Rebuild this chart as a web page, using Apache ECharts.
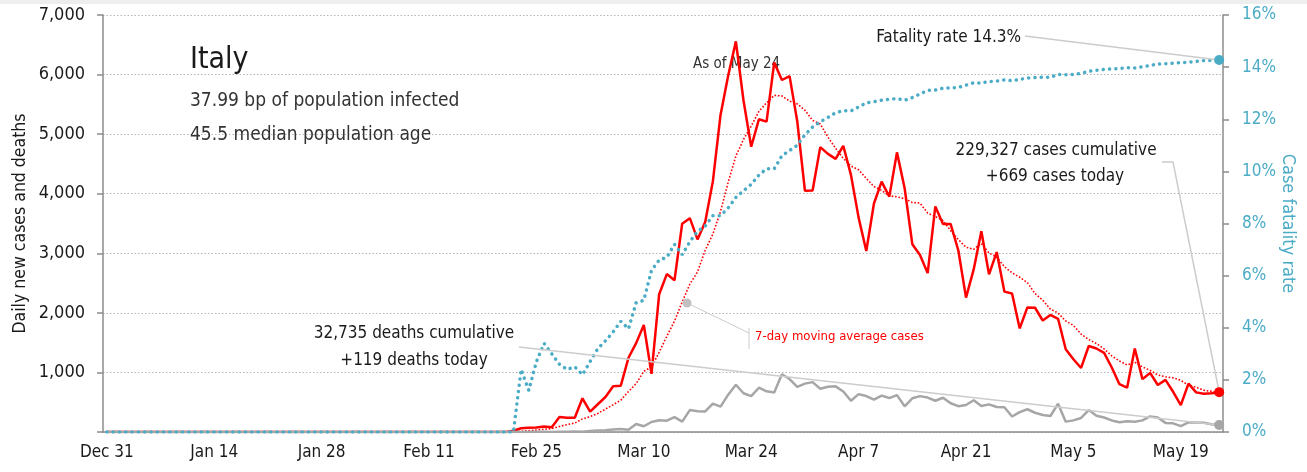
<!DOCTYPE html>
<html>
<head>
<meta charset="utf-8">
<script src="https://cdn.jsdelivr.net/npm/echarts@6/dist/echarts.min.js"></script>
<style>
html, body { margin: 0; padding: 0; background: #fff; }
#chart { width: 1307px; height: 472px; }
</style>
</head>
<body>
<div id="chart"></div>
<script>
const FONT = "'Liberation Sans Narrow', 'DejaVu Sans Condensed', sans-serif";
const RED = '#ff0000';
const TEAL = '#4bacc6';
const GRAY = '#a6a6a6';
const AXIS = '#8c8c8c';

// daily categories Dec 31 .. May 24, data flat at zero until Feb 21
const MONTHS = ['Jan', 'Feb', 'Mar', 'Apr', 'May', 'Jun', 'Jul', 'Aug', 'Sep', 'Oct', 'Nov', 'Dec'];
const CATEGORY_DAYS = 146;
const LEAD_ZERO_DAYS = 53;
const X_TICK_LABELS = ['Dec 31', 'Jan 14', 'Jan 28', 'Feb 11', 'Feb 25', 'Mar 10', 'Mar 24', 'Apr 7', 'Apr 21', 'May 5', 'May 19'];

// Feb 22 .. May 24
const CASES = [
    20, 62, 73, 77, 93, 78, 250, 238,
    240, 566, 342, 466, 587, 769, 778, 1247, 1492, 1797,
    977, 2313, 2651, 2547, 3497, 3590, 3233, 3526, 4207, 5322,
    5986, 6557, 5560, 4789, 5249, 5210, 6203, 5909, 5974, 5217, 4050,
    4053, 4782, 4668, 4585, 4805, 4316, 3599, 3039, 3836, 4204,
    3951, 4694, 4092, 3153, 2972, 2667, 3786, 3493, 3491, 3047,
    2256, 2729, 3370, 2646, 3021, 2357, 2324, 1739, 2091, 2086,
    1872, 1965, 1900, 1389, 1221, 1075, 1444, 1401, 1327, 1083,
    802, 744, 1402, 888, 992, 789, 875, 675, 451, 813,
    665, 642, 652, 669
];
const CASES_MA7 = [
    3, 12, 22, 33, 46, 58, 93, 124, 150, 220,
    258, 311, 384, 458, 535, 679, 812, 1019, 1092, 1339,
    1608, 1861, 2182, 2482, 2687, 3051, 3322, 3703, 4194, 4632,
    4913, 5135, 5381, 5525, 5651, 5640, 5556, 5507, 5402, 5231,
    5170, 4950, 4761, 4594, 4466, 4401, 4256, 4121, 4055, 3964,
    3948, 3916, 3853, 3843, 3676, 3616, 3551, 3379, 3230, 3102,
    3067, 3167, 3005, 2937, 2775, 2672, 2598, 2507, 2323, 2213,
    2062, 1997, 1863, 1789, 1644, 1552, 1485, 1394, 1277, 1193,
    1125, 1172, 1092, 1034, 957, 927, 909, 867, 783, 751,
    701, 682, 652
];
const DEATHS = [
    1, 1, 1, 4, 3, 2, 5, 4, 8,
    5, 18, 27, 28, 41, 49, 36, 133, 97, 168,
    196, 189, 250, 175, 368, 349, 345, 475, 427, 627,
    793, 651, 601, 743, 683, 662, 969, 889, 756, 812, 837,
    727, 760, 766, 681, 525, 636, 604, 542, 610, 570,
    619, 431, 566, 602, 578, 525, 575, 482, 433, 454,
    534, 437, 464, 420, 415, 260, 333, 382, 323, 285,
    269, 474, 174, 195, 236, 369, 274, 243, 194, 165,
    179, 172, 195, 262, 242, 153, 145, 99, 162, 161,
    156, 130, 119
];
const FATALITY_PCT = [
    0, 2.4, 1.6, 2.7, 3.4, 3.0, 2.6, 2.4,
    2.5, 2.2, 2.7, 3.2, 3.5, 3.84, 4.25, 3.96, 4.96, 5.05,
    6.2, 6.6, 6.7, 7.2, 6.8, 7.3, 7.7, 7.9, 8.3, 8.3,
    8.6, 9.0, 9.26, 9.5, 9.86, 10.1, 10.1, 10.6, 10.8, 11.0, 11.4,
    11.7, 11.9, 12.07, 12.25, 12.33, 12.32, 12.47, 12.63, 12.67, 12.73,
    12.77, 12.79, 12.73, 12.83, 12.97, 13.11, 13.12, 13.19, 13.20, 13.22,
    13.31, 13.40, 13.39, 13.45, 13.46, 13.51, 13.48, 13.53, 13.58, 13.60,
    13.61, 13.61, 13.72, 13.71, 13.72, 13.76, 13.84, 13.88, 13.91, 13.93,
    13.95, 13.98, 13.97, 14.01, 14.06, 14.12, 14.13, 14.15, 14.17, 14.19,
    14.22, 14.25, 14.26, 14.27
];

const categories = [];
for (let i = 0; i < CATEGORY_DAYS; i++) {
    const d = new Date(Date.UTC(2019, 11, 31 + i));
    categories.push(MONTHS[d.getUTCMonth()] + ' ' + d.getUTCDate());
}
const pad = arr => new Array(LEAD_ZERO_DAYS).fill(0).concat(arr);

const chart = echarts.init(document.getElementById('chart'), null, { renderer: 'canvas' });

const textBase = { fontFamily: FONT, fill: '#1a1a1a' };

chart.setOption({
    animation: false,
    textStyle: { fontFamily: FONT },
    grid: { left: 103, right: 84, top: 15, bottom: 40, containLabel: false, outerBoundsMode: 'none' },
    xAxis: {
        type: 'category',
        data: categories,
        boundaryGap: true,
        axisLine: { lineStyle: { color: AXIS, width: 1.5 } },
        axisTick: {
            length: 6,
            interval: (i, v) => X_TICK_LABELS.includes(v),
            lineStyle: { color: AXIS, width: 1.5 },
        },
        axisLabel: {
            interval: (i, v) => X_TICK_LABELS.includes(v),
            color: '#1a1a1a',
            fontSize: 17,
            margin: 12,
        },
        splitLine: { show: false },
    },
    yAxis: [
        {
            type: 'value',
            min: 0,
            max: 7000,
            interval: 1000,
            name: 'Daily new cases and deaths',
            nameLocation: 'middle',
            nameGap: 74,
            nameMoveOverlap: false,
            nameTextStyle: { color: '#1a1a1a', fontSize: 17.5 },
            axisLine: { show: true, lineStyle: { color: AXIS, width: 1.5 } },
            axisTick: { show: true, length: 6, lineStyle: { color: AXIS, width: 1.5 } },
            axisLabel: {
                color: '#1a1a1a',
                fontSize: 18,
                margin: 18,
                formatter: v => v === 0 ? '' : v.toLocaleString('en-US'),
            },
            splitLine: { lineStyle: { color: '#b5b5b5', type: [1.5, 2], width: 1 } },
        },
        {
            type: 'value',
            min: 0,
            max: 16,
            interval: 2,
            position: 'right',
            name: 'Case fatality rate',
            nameLocation: 'middle',
            nameRotate: -90,
            nameGap: 56,
            nameMoveOverlap: false,
            nameTextStyle: { color: TEAL, fontSize: 18 },
            axisLine: { show: true, lineStyle: { color: AXIS, width: 1.5 } },
            axisTick: { show: true, length: 6, lineStyle: { color: AXIS, width: 1.5 } },
            axisLabel: { color: TEAL, fontSize: 17, margin: 19, formatter: '{value}%' },
            splitLine: { show: false },
        },
    ],
    series: [
        {
            name: 'Daily cases',
            type: 'line',
            data: pad(CASES),
            showSymbol: false,
            lineStyle: { color: RED, width: 2.5 },
            z: 2,
        },
        {
            name: '7-day moving average cases',
            type: 'line',
            data: pad(CASES_MA7),
            showSymbol: false,
            lineStyle: { color: RED, width: 1.6, type: [1.6, 1.8] },
            z: 3,
        },
        {
            name: 'Daily deaths',
            type: 'line',
            data: pad(DEATHS),
            showSymbol: false,
            lineStyle: { color: GRAY, width: 2.5 },
            z: 4,
        },
        {
            name: 'Case fatality rate',
            type: 'line',
            yAxisIndex: 1,
            data: pad(FATALITY_PCT),
            showSymbol: false,
            lineStyle: { color: TEAL, width: 3.5, type: [0.1, 6.2], cap: 'round' },
            z: 5,
        },
    ],
});

// annotations anchored on the last data points
const last = CATEGORY_DAYS - 1;
const pCase = chart.convertToPixel({ xAxisIndex: 0, yAxisIndex: 0 }, [last, CASES[CASES.length - 1]]);
const pDeath = chart.convertToPixel({ xAxisIndex: 0, yAxisIndex: 0 }, [last, DEATHS[DEATHS.length - 1]]);
const pRate = chart.convertToPixel({ xAxisIndex: 0, yAxisIndex: 1 }, [last, FATALITY_PCT[FATALITY_PCT.length - 1]]);
const leader = { stroke: '#cccccc', lineWidth: 1.5 };

chart.setOption({
    graphic: [
        { type: 'rect', shape: { x: 0, y: 0, width: 1307, height: 4 }, style: { fill: '#eeeeee' } },
        { type: 'text', x: 190, y: 60, style: { ...textBase, text: 'Italy', fontSize: 30, verticalAlign: 'middle' } },
        { type: 'text', x: 190, y: 101, style: { ...textBase, text: '37.99 bp of population infected', fontSize: 19, fill: '#333', verticalAlign: 'middle' } },
        { type: 'text', x: 190, y: 135, style: { ...textBase, text: '45.5 median population age', fontSize: 19, fill: '#333', verticalAlign: 'middle' } },
        { type: 'text', x: 693, y: 64, style: { ...textBase, text: 'As of May 24', fontSize: 15, fill: '#333', verticalAlign: 'middle' } },

        { type: 'line', shape: { x1: 1025, y1: 36, x2: pRate[0], y2: pRate[1] }, style: leader, z: 10 },
        { type: 'text', x: 1021, y: 38, style: { ...textBase, text: 'Fatality rate 14.3%', fontSize: 17, align: 'right', verticalAlign: 'middle' } },
        { type: 'circle', shape: { cx: pRate[0], cy: pRate[1], r: 5 }, style: { fill: TEAL }, z: 11 },

        { type: 'polyline', shape: { points: [[1162, 162], [1173, 162], [pCase[0], pCase[1]]] }, style: { ...leader, fill: null }, z: 10 },
        { type: 'text', x: 1056, y: 151, style: { ...textBase, text: '229,327 cases cumulative', fontSize: 17, align: 'center', verticalAlign: 'middle' } },
        { type: 'text', x: 1055, y: 177, style: { ...textBase, text: '+669 cases today', fontSize: 17, align: 'center', verticalAlign: 'middle' } },
        { type: 'circle', shape: { cx: pCase[0], cy: pCase[1], r: 5 }, style: { fill: RED }, z: 11 },

        { type: 'line', shape: { x1: 519, y1: 347, x2: pDeath[0], y2: pDeath[1] }, style: leader, z: 10 },
        { type: 'text', x: 414, y: 334, style: { ...textBase, text: '32,735 deaths cumulative', fontSize: 17, align: 'center', verticalAlign: 'middle' } },
        { type: 'text', x: 414, y: 361, style: { ...textBase, text: '+119 deaths today', fontSize: 17, align: 'center', verticalAlign: 'middle' } },
        { type: 'circle', shape: { cx: pDeath[0], cy: pDeath[1], r: 5 }, style: { fill: GRAY }, z: 11 },

        { type: 'circle', shape: { cx: 687, cy: 303, r: 4.5 }, style: { fill: '#c0c0c0' }, z: 11 },
        { type: 'line', shape: { x1: 687, y1: 303, x2: 749, y2: 333 }, style: { stroke: '#cccccc', lineWidth: 1 }, z: 10 },
        { type: 'line', shape: { x1: 749, y1: 328, x2: 749, y2: 349 }, style: { stroke: '#cccccc', lineWidth: 1 }, z: 10 },
        { type: 'text', x: 755, y: 337, style: { fontFamily: FONT, text: '7-day moving average cases', fontSize: 13, fill: RED, verticalAlign: 'middle' } },
    ],
});

window.addEventListener('resize', () => chart.resize());
</script>
</body>
</html>
